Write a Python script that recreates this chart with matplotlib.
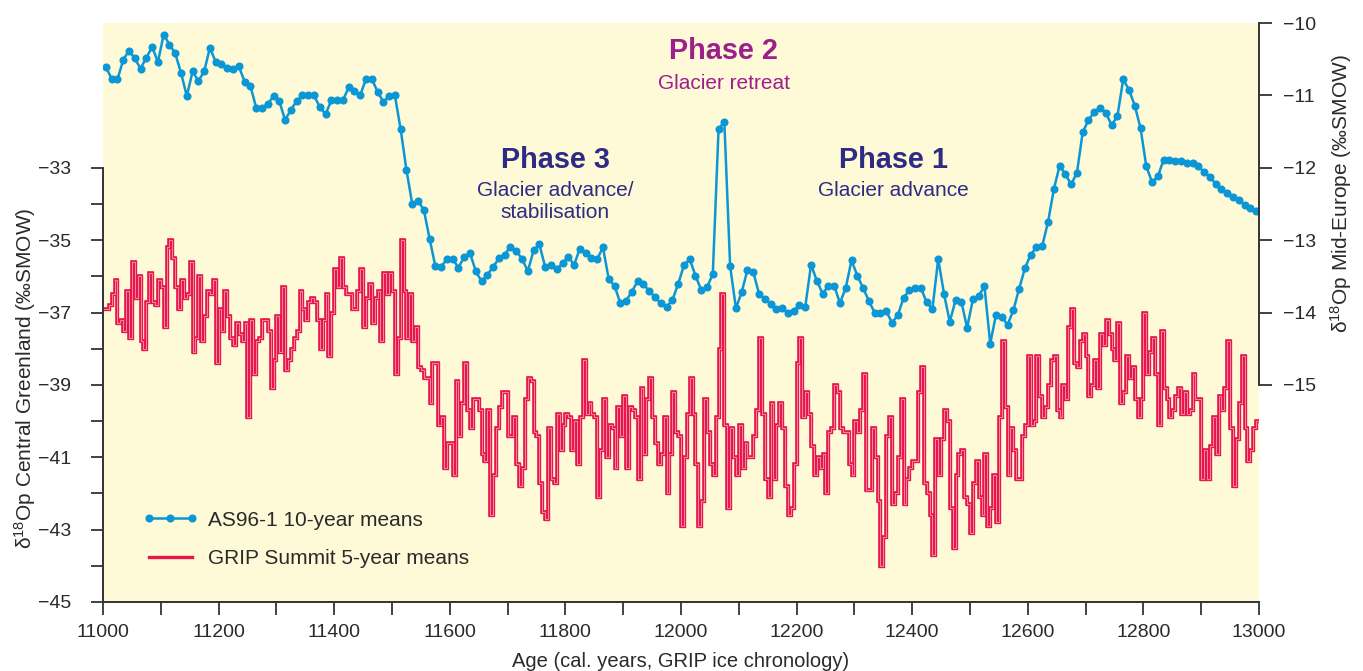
import numpy as np
import matplotlib
matplotlib.use("Agg")
import matplotlib.pyplot as plt
from matplotlib.lines import Line2D
import matplotlib.patheffects as pe

plt.rcParams['font.family'] = ['Liberation Sans', 'DejaVu Sans']

# AS96-1 10-year means (right axis), centred on mid-decades 11005..12995
as96_years = np.arange(11005, 13000, 10)
as96 = [
    -10.61, -10.77, -10.78, -10.51, -10.38, -10.49, -10.63, -10.48, -10.33, -10.54,
    -10.16, -10.30, -10.42, -10.69, -11.01, -10.67, -10.80, -10.67, -10.34, -10.54,
    -10.57, -10.62, -10.64, -10.60, -10.81, -10.87, -11.17, -11.17, -11.12, -11.01,
    -11.08, -11.34, -11.20, -11.08, -11.00, -11.00, -11.00, -11.16, -11.26, -11.07,
    -11.07, -11.07, -10.89, -10.94, -11.00, -10.77, -10.77, -10.95, -11.09, -11.01,
    -11.00, -11.47, -12.03, -12.50, -12.46, -12.58, -12.98, -13.36, -13.37, -13.26,
    -13.26, -13.38, -13.23, -13.18, -13.43, -13.57, -13.48, -13.37, -13.25, -13.20,
    -13.09, -13.15, -13.26, -13.43, -13.14, -13.06, -13.37, -13.34, -13.40, -13.32,
    -13.23, -13.34, -13.12, -13.18, -13.25, -13.26, -13.10, -13.54, -13.63, -13.87,
    -13.84, -13.71, -13.57, -13.61, -13.70, -13.79, -13.87, -13.92, -13.83, -13.61,
    -13.35, -13.26, -13.49, -13.69, -13.65, -13.47, -11.46, -11.37, -13.36, -13.94,
    -13.72, -13.41, -13.44, -13.74, -13.81, -13.88, -13.95, -13.94, -14.00, -13.98,
    -13.89, -13.92, -13.34, -13.56, -13.74, -13.63, -13.63, -13.87, -13.66, -13.28,
    -13.49, -13.66, -13.84, -14.00, -14.00, -13.98, -14.14, -14.04, -13.80, -13.69,
    -13.66, -13.66, -13.86, -13.95, -13.26, -13.74, -14.13, -13.83, -13.85, -14.21,
    -13.82, -13.77, -13.64, -14.43, -14.03, -14.06, -14.17, -13.97, -13.67, -13.39,
    -13.20, -13.10, -13.08, -12.75, -12.30, -11.97, -12.09, -12.23, -12.07, -11.51,
    -11.34, -11.23, -11.17, -11.24, -11.41, -11.29, -10.78, -10.92, -11.14, -11.45,
    -11.98, -12.20, -12.12, -11.89, -11.89, -11.90, -11.91, -11.93, -11.94, -11.98,
    -12.06, -12.13, -12.22, -12.29, -12.35, -12.40, -12.45, -12.51, -12.55, -12.60,
]

# GRIP Summit 5-year means (left axis), 400 steps between 11000 and 13000
grip_edges = np.arange(11000, 13001, 5)
grip_a = [
    -36.9, -36.9, -36.8, -36.5, -36.1, -37.3, -37.2, -37.5, -36.4, -37.7,
    -35.6, -36.6, -36.0, -37.8, -38.0, -36.7, -35.9, -36.7, -36.8, -36.1,
    -36.3, -37.4, -35.2, -35.0, -35.5, -36.3, -36.9, -36.1, -36.6, -36.5,
    -35.6, -38.1, -37.7, -36.0, -37.8, -37.1, -36.4, -36.5, -36.1, -38.4,
    -36.9, -37.5, -36.4, -37.1, -37.7, -37.9, -37.3, -37.6, -37.8, -37.3,
    -39.9, -37.2, -38.7, -37.8, -37.7, -37.2, -37.2, -37.5, -39.1, -38.3,
    -37.1, -38.1, -36.3, -38.6, -38.3, -38.0, -37.7, -37.5, -36.4, -36.9,
    -37.2, -36.7, -36.6, -36.7, -37.2, -38.0, -37.2, -36.5, -38.2, -37.0,
    -35.8, -36.3, -35.5, -36.3, -36.5, -36.5, -36.9, -36.9, -36.4, -35.8,
    -37.4, -36.6, -36.2, -37.3, -36.6, -36.4, -37.8, -35.9, -36.5, -35.9,
    -36.4, -38.7, -37.7, -35.0, -36.4, -37.7, -36.5, -37.8, -37.4, -38.5,
    -38.6, -38.8, -38.8, -39.5, -38.4, -38.4, -40.1, -39.9, -41.3, -40.6,
    -40.6, -41.5, -38.9, -40.4, -39.5, -38.4, -39.7, -40.2, -39.4, -39.4,
    -39.7, -40.9, -41.1, -39.7, -42.6, -41.5, -40.2, -39.6, -39.2, -39.2,
    -40.4, -40.4, -39.9, -41.2, -41.8, -41.3, -39.4, -38.8, -38.9, -40.3,
    -40.4,
]
grip_b = [
    -41.7, -42.5, -42.7, -40.2, -41.6, -41.7, -39.8, -40.8, -40.1, -39.8,
    -39.9, -40.8, -40.0, -41.2, -39.9, -38.3, -39.8, -39.5, -39.8, -39.9,
    -42.1, -40.8, -39.4, -41.0, -40.1, -40.2, -41.3, -39.6, -40.4, -39.3,
    -41.3, -39.6, -39.7, -39.9, -41.6, -39.1, -40.9, -39.4, -38.8, -39.9,
    -40.6, -41.2, -40.9, -39.9, -42.0, -40.9, -39.2, -40.3, -40.4, -42.9,
    -41.0, -39.8, -38.8, -39.8, -41.2, -42.9, -42.2, -39.4, -40.3, -41.2,
    -41.5, -39.9, -38.0, -36.5, -40.1, -42.4, -40.2, -41.0, -41.5, -40.1,
    -41.3, -40.6, -41.0, -41.0, -40.4, -39.7, -37.7, -39.8, -41.6, -42.1,
    -39.5, -41.6, -40.1, -39.5, -40.2, -41.8, -42.6, -42.4, -41.2, -38.4,
    -37.7, -39.9, -39.2, -39.8, -40.7, -41.5, -41.0, -41.3, -40.9, -42.0,
    -40.3, -40.2, -39.0, -39.2, -40.2, -40.3, -40.3, -41.2, -41.5, -40.0,
    -40.3, -39.7, -38.7, -41.9, -41.9, -40.2, -41.0, -42.2, -44.0, -43.2,
    -40.4, -39.9, -42.3, -42.0, -41.0, -39.4, -42.3, -41.6, -41.3, -41.1,
    -41.1, -39.2, -38.5, -41.7, -42.0, -42.6, -43.7, -40.5, -41.5, -40.5,
    -39.7, -40.0, -42.4, -43.5, -41.5, -40.9, -40.8, -42.1, -42.3,
]
grip_c = [
    -43.1, -41.7, -41.1, -42.1, -42.6, -40.9, -42.9, -42.4, -41.5, -42.8,
    -39.9, -37.8, -39.6, -41.5, -40.2, -40.8, -41.6, -41.6, -40.4, -40.1,
    -38.2, -40.1, -40.0, -38.2, -39.3, -39.9, -39.6, -39.0, -38.3, -38.2,
    -39.7, -39.9, -39.0, -39.4, -37.4, -36.9, -38.4, -38.5, -37.8, -37.6,
    -38.2, -39.3, -39.0, -38.3, -39.1, -37.6, -37.9, -37.2, -37.6, -38.0,
    -38.3, -37.3, -39.5, -39.2, -38.2, -38.8, -38.5, -39.4, -39.9, -39.4,
    -37.0, -38.7, -38.1, -37.7, -38.7, -40.1, -37.5, -39.1, -39.4, -39.9,
    -39.7, -39.3, -39.1, -39.8, -39.2, -39.8, -39.7, -38.7, -39.4, -39.4,
    -41.6, -40.8, -41.6, -40.7, -39.9, -40.9, -39.3, -39.7, -39.1, -37.8,
    -40.2, -41.8, -40.5, -39.5, -38.2, -40.2, -41.1, -40.8, -40.2, -40.0,
]
grip = grip_a + grip_b + grip_c

blue = '#0b96d5'
red = '#e8174b'
ink = '#2a2a2a'

fig = plt.figure(figsize=(13.63, 6.71), dpi=100)
ax = fig.add_axes([103 / 1363, 69 / 671, 1156 / 1363, 579 / 671])
ax.set_facecolor('#fef9d6')
ax.set_xlim(11000, 13000)
ax.set_ylim(-45, -29)

ax.stairs(grip, grip_edges, color=red, lw=2.4, baseline=None,
          path_effects=[pe.Stroke(linewidth=2.6, foreground=red),
                        pe.Normal()])
ax.stairs(grip, grip_edges, color='#f58aa2', lw=0.7, baseline=None)

ax2 = ax.twinx()
ax2.set_ylim(-18, -10)
ax2.plot(as96_years, as96, color=blue, lw=1.8, marker='o', ms=4.8)

# spines
for a in (ax, ax2):
    a.spines['top'].set_visible(False)
ax.spines['right'].set_visible(False)
ax2.spines['left'].set_visible(False)
ax2.spines['bottom'].set_visible(False)
ax.spines['left'].set_bounds(-45, -33)
ax2.spines['right'].set_bounds(-15, -10)
for s in (ax.spines['left'], ax.spines['bottom'], ax2.spines['right']):
    s.set_color('#333333')
    s.set_linewidth(1.4)

# ticks
ax.set_xticks(np.arange(11000, 13001, 200))
ax.set_xticks(np.arange(11100, 13000, 200), minor=True)
ax.set_yticks(np.arange(-45, -32, 2))
ax.set_yticks(np.arange(-44, -33, 2), minor=True)
ax2.set_yticks(np.arange(-15, -9, 1))
for a in (ax, ax2):
    a.tick_params(which='both', direction='out', length=9, width=1.3,
                  color='#333333', labelsize=14, labelcolor=ink)
ax.tick_params(axis='x', pad=7)
ax.tick_params(axis='y', pad=14)
ax2.tick_params(axis='y', pad=8)

ax.set_xlabel('Age (cal. years, GRIP ice chronology)', fontsize=14.5, color=ink, labelpad=8)
ax.set_ylabel(r'$\mathregular{\delta^{18}}$Op Central Greenland (‰SMOW)', fontsize=15, color=ink)
ax.yaxis.set_label_coords(-0.056, 0.387)
ax2.set_ylabel(r'$\mathregular{\delta^{18}}$Op Mid-Europe (‰SMOW)', fontsize=15, color=ink,
               rotation=90)
ax2.yaxis.set_label_coords(1.0597, 0.706)

# phase annotations
purple = '#9e1f8c'
navy = '#2e2b86'
ax.text(12074, -29.77, 'Phase 2', ha='center', va='center', fontsize=20.8,
        fontweight='bold', color=purple)
ax.text(12074, -30.66, 'Glacier retreat', ha='center', va='center', fontsize=15, color=purple)
ax.text(11782, -32.78, 'Phase 3', ha='center', va='center', fontsize=20.8,
        fontweight='bold', color=navy)
ax.text(11782, -33.63, 'Glacier advance/', ha='center', va='center', fontsize=15, color=navy)
ax.text(11782, -34.24, 'stabilisation', ha='center', va='center', fontsize=15, color=navy)
ax.text(12367, -32.78, 'Phase 1', ha='center', va='center', fontsize=20.8,
        fontweight='bold', color=navy)
ax.text(12367, -33.63, 'Glacier advance', ha='center', va='center', fontsize=15, color=navy)

handles = [Line2D([], [], color=blue, lw=1.8, marker='o', ms=4.8),
           Line2D([], [], color=red, lw=2.4)]
ax2.legend(handles, ['AS96-1 10-year means', 'GRIP Summit 5-year means'],
           loc='upper left', bbox_to_anchor=(0.0346, 0.158), frameon=False,
           fontsize=15, handlelength=2.64, handletextpad=0.48, numpoints=3,
           labelspacing=0.95, borderpad=0, borderaxespad=0, labelcolor=ink)

fig.savefig('out.png', dpi=100)
